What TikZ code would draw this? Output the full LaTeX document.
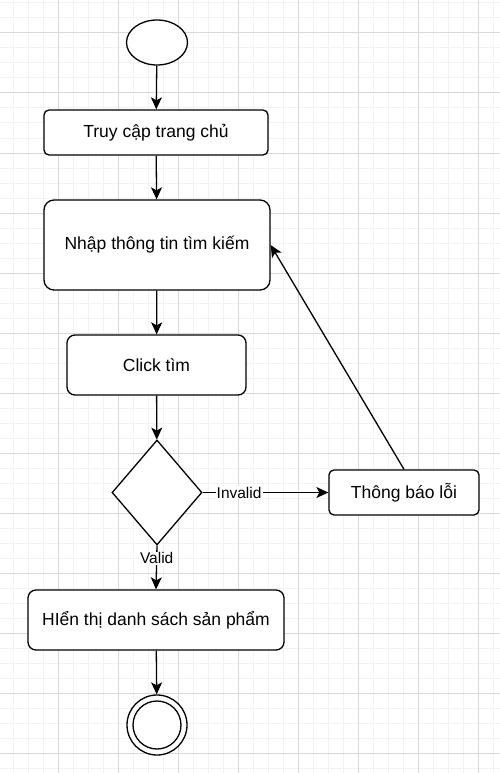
\documentclass[tikz,border=0pt]{standalone}
\usepackage{fontspec}
\setmainfont{Liberation Sans}
\usetikzlibrary{shapes.geometric,arrows.meta}

\definecolor{gridminor}{HTML}{F2F2F2}
\definecolor{gridmajor}{HTML}{D9D9D9}

\tikzset{
    act/.style={draw, line width=1.3pt, fill=white, rounded corners=#1,
        font=\fontsize{17.5}{20}\selectfont, inner sep=0pt},
    act/.default=5pt,
    flow/.style={line width=1.3pt, -{Stealth[length=12pt,width=11pt,inset=3pt]}},
    guard/.style={fill=white, inner sep=1pt, font=\fontsize{15.5}{18}\selectfont}
}

\begin{document}
\begin{tikzpicture}[x=1pt,y=-1pt]
            \useasboundingbox (0,0) rectangle (500,773);
            \fill[white] (0,0) rectangle (500,773);

            \foreach \x in {13,28,...,500}
                \draw[gridminor, line width=1pt] (\x,0) -- (\x,773);
            \foreach \y in {3,18,...,773}
                \draw[gridminor, line width=1pt] (0,\y) -- (500,\y);
            \foreach \x in {58,118,...,500}
                \draw[gridmajor, line width=1pt] (\x,0) -- (\x,773);
            \foreach \y in {33,93,...,773}
                \draw[gridmajor, line width=1pt] (0,\y) -- (500,\y);

            \node[draw, ellipse, line width=1.3pt, fill=white, inner sep=0pt,
                minimum width=61pt, minimum height=45pt] (start) at (157, 42.5) {};

            \node[act, minimum width=224pt, minimum height=45pt] (access) at (156, 132.5) {Truy cập trang chủ};
            \node[act=10pt, minimum width=226pt, minimum height=90pt] (search) at (157, 245) {Nhập thông tin tìm kiếm};
            \node[act=8pt, minimum width=179pt, minimum height=60pt] (click) at (156.5, 365) {Click tìm};

            \node[draw, diamond, line width=1.3pt, fill=white, inner sep=0pt, aspect=0.857,
                minimum width=90pt, minimum height=105pt] (check) at (157, 492.5) {};

            \node[act, minimum width=150pt, minimum height=45pt] (error) at (404, 492.5) {Thông báo lỗi};
            \node[act=8pt, minimum width=256pt, minimum height=60pt] (result) at (156, 620) {HIển thị danh sách sản phẩm};

            \node[draw, circle, line width=1.3pt, fill=white, minimum size=60pt, inner sep=0pt] (finish) at (157, 725) {};
            \node[draw, circle, line width=1.3pt, minimum size=48pt, inner sep=0pt] (finishin) at (finish) {};

            \draw[flow] (start) -- (access);
            \draw[flow] (access) -- (search);
            \draw[flow] (search) -- (click);
            \draw[flow] (click) -- (check);
            \draw[flow] (check.east) -- node[guard, pos=0.29] {Invalid} (error.west);
            \draw[flow] (check.south) -- node[guard, pos=0.29] {Valid} (result.north);
            \draw[flow] (error.north) -- (search.east);
            \draw[flow] (result) -- (finish);
\end{tikzpicture}
\end{document}
